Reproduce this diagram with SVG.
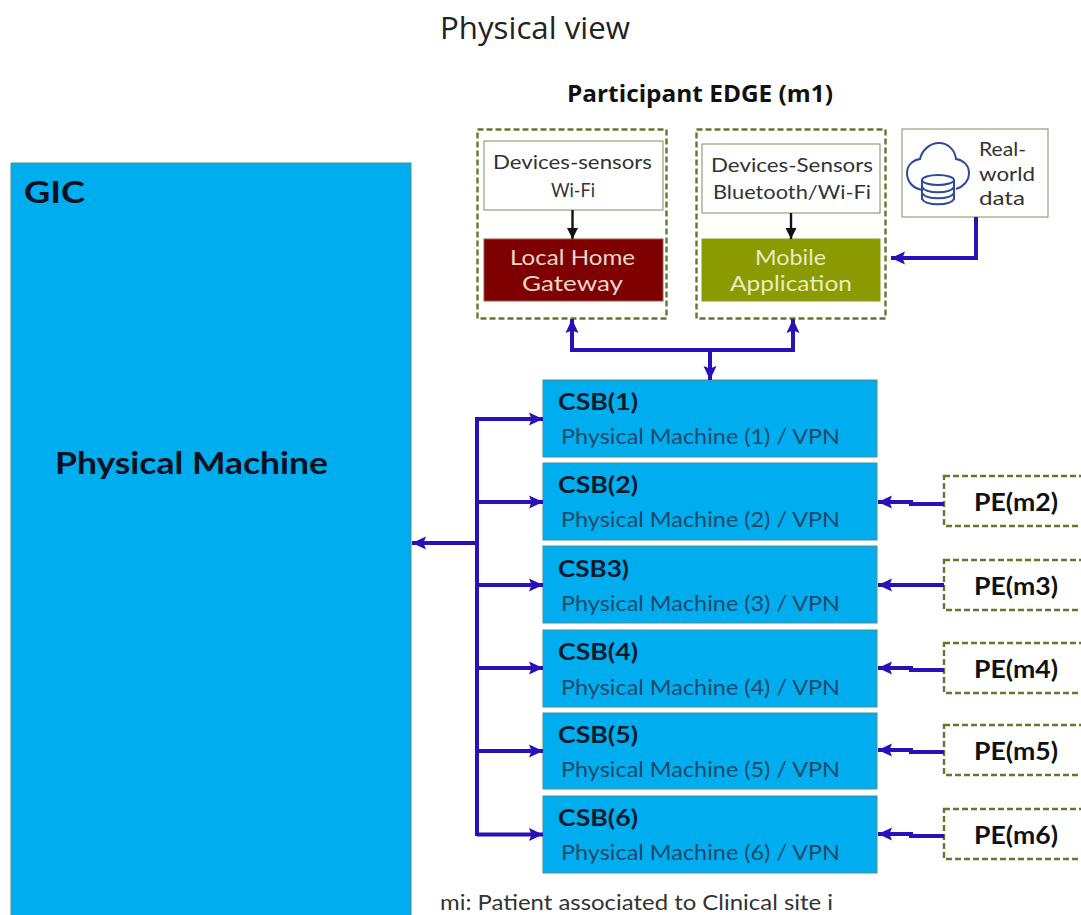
<svg xmlns="http://www.w3.org/2000/svg" width="1081" height="915" viewBox="0 0 1081 915">
<style>
text{font-family:"Lato","Noto Sans","Liberation Sans",sans-serif}
.blue{fill:#00adef;stroke:#4f8f8f;stroke-width:1}
.dash{fill:#fff;stroke:#5f7a2e;stroke-width:2.4;stroke-dasharray:6 3}
.wbox{fill:#fff;stroke:#7f8f5f;stroke-width:1}
.b{font-weight:700;fill:#0a1020}
.h{font-size:23px;font-weight:700;fill:#0a1a2a}
.p{font-size:21px;fill:#1f4a6a}
.pe{font-size:25px;font-weight:700;fill:#111}
.m{text-anchor:middle}
.dev{font-size:20px;fill:#333}
.lab{font-size:22px}
.c{fill:none;stroke:#2a10b8;stroke-width:4}
.k{fill:none;stroke:#111;stroke-width:2.4}
</style>
<defs>
<marker id="a" markerUnits="userSpaceOnUse" markerWidth="15" markerHeight="14" refX="14" refY="7" orient="auto"><path d="M0 0.500L14 7L0 13.500L2.500 7Z" fill="#2a10b8"/></marker>
<marker id="k" markerUnits="userSpaceOnUse" markerWidth="12" markerHeight="12" refX="11" refY="6" orient="auto"><path d="M0 0.500L11 6L0 11.500Z" fill="#111"/></marker>
</defs>
<rect width="1081" height="915" fill="#fff"/>
<text id="title" x="440" y="39" font-size="31" fill="#222" style="font-family:'Open Sans','Noto Sans',sans-serif" textLength="190" lengthAdjust="spacingAndGlyphs">Physical view</text>
<text id="edge-title" x="567" y="102" font-size="24" font-weight="700" fill="#111" style="font-family:'Open Sans','Noto Sans',sans-serif" textLength="266" lengthAdjust="spacingAndGlyphs">Participant EDGE (m1)</text>

<g id="gic"><rect class="blue" x="11" y="163" width="400" height="760"/>
<text class="b" x="24" y="203" font-size="30" textLength="61" lengthAdjust="spacingAndGlyphs">GIC</text>
<text class="b" x="55" y="474" font-size="31" textLength="273" lengthAdjust="spacingAndGlyphs">Physical Machine</text></g>

<g id="edge-wifi"><rect class="dash" x="477.500" y="129.500" width="189" height="189"/></g>
<g id="edge-ble"><rect class="dash" x="696.500" y="129.500" width="189" height="189"/></g>

<g id="devices-wifi"><rect class="wbox" x="484" y="141" width="179" height="69"/>
<text class="dev" x="493" y="169" textLength="159" lengthAdjust="spacingAndGlyphs">Devices-sensors</text><text class="dev" x="551" y="197" textLength="44" lengthAdjust="spacingAndGlyphs">Wi-Fi</text></g>
<g id="gateway"><rect x="484" y="239" width="179" height="62" fill="#7f0000" stroke="#9a5a40"/>
<text class="lab" x="510" y="265" fill="#e8d8c8" textLength="125" lengthAdjust="spacingAndGlyphs">Local Home</text><text class="lab" x="522" y="291" fill="#e8d8c8" textLength="101" lengthAdjust="spacingAndGlyphs">Gateway</text></g>
<g id="devices-ble"><rect class="wbox" x="702" y="144" width="178" height="69"/>
<text class="dev" x="711" y="172" textLength="162" lengthAdjust="spacingAndGlyphs">Devices-Sensors</text><text class="dev" x="713" y="199" textLength="158" lengthAdjust="spacingAndGlyphs">Bluetooth/Wi-Fi</text></g>
<g id="mobile"><rect x="702" y="239" width="178" height="62" fill="#8a9a00" stroke="#8a9a20"/>
<text class="lab" x="755" y="265" fill="#e8ecc0" textLength="71" lengthAdjust="spacingAndGlyphs">Mobile</text><text class="lab" x="730" y="291" fill="#e8ecc0" textLength="122" lengthAdjust="spacingAndGlyphs">Application</text></g>

<g id="rwd"><rect class="wbox" x="902" y="129" width="146" height="88"/>
<g fill="none" stroke="#2e4a9a" stroke-width="2">
<path d="M922 190C912 188 907 181 907 173C907 165 913 160 920 159C922 150 930 143 939 143C948 143 955 150 956 159C963 160 969 165 969 173C969 181 963 187 956 189"/>
<ellipse cx="938" cy="180" rx="16" ry="5"/>
<path d="M922 180V199C926 206 950 206 954 199V180M922 187C926 194 950 194 954 187M922 193C926 200 950 200 954 193"/>
</g>
<text x="979" y="156" font-size="20" fill="#333" textLength="47" lengthAdjust="spacingAndGlyphs">Real-</text><text x="979" y="181" font-size="20" fill="#333" textLength="56" lengthAdjust="spacingAndGlyphs">world</text><text x="979" y="205" font-size="20" fill="#333" textLength="46" lengthAdjust="spacingAndGlyphs">data</text></g>

<g id="csb1"><rect class="blue" x="543" y="380" width="334" height="77"/><text class="h" x="558" y="410" textLength="80" lengthAdjust="spacingAndGlyphs">CSB(1)</text><text class="p" x="561" y="444" textLength="279" lengthAdjust="spacingAndGlyphs">Physical Machine  (1) / VPN</text></g>
<g id="csb2"><rect class="blue" x="543" y="463" width="334" height="77"/><text class="h" x="558" y="493" textLength="80" lengthAdjust="spacingAndGlyphs">CSB(2)</text><text class="p" x="561" y="527" textLength="279" lengthAdjust="spacingAndGlyphs">Physical Machine  (2) / VPN</text></g>
<g id="csb3"><rect class="blue" x="543" y="546" width="334" height="77"/><text class="h" x="558" y="577" textLength="71" lengthAdjust="spacingAndGlyphs">CSB3)</text><text class="p" x="561" y="611" textLength="279" lengthAdjust="spacingAndGlyphs">Physical Machine  (3) / VPN</text></g>
<g id="csb4"><rect class="blue" x="543" y="630" width="334" height="77"/><text class="h" x="558" y="660" textLength="80" lengthAdjust="spacingAndGlyphs">CSB(4)</text><text class="p" x="561" y="695" textLength="279" lengthAdjust="spacingAndGlyphs">Physical Machine  (4) / VPN</text></g>
<g id="csb5"><rect class="blue" x="543" y="713" width="334" height="76"/><text class="h" x="558" y="743" textLength="80" lengthAdjust="spacingAndGlyphs">CSB(5)</text><text class="p" x="561" y="777" textLength="279" lengthAdjust="spacingAndGlyphs">Physical Machine  (5) / VPN</text></g>
<g id="csb6"><rect class="blue" x="543" y="796" width="334" height="77"/><text class="h" x="558" y="826" textLength="80" lengthAdjust="spacingAndGlyphs">CSB(6)</text><text class="p" x="561" y="860" textLength="279" lengthAdjust="spacingAndGlyphs">Physical Machine  (6) / VPN</text></g>

<g id="pe2"><rect class="dash" x="944" y="476" width="150" height="50"/><text class="pe" x="974" y="511" textLength="84" lengthAdjust="spacingAndGlyphs">PE(m2)</text></g>
<g id="pe3"><rect class="dash" x="944" y="560" width="150" height="50"/><text class="pe" x="974" y="595" textLength="84" lengthAdjust="spacingAndGlyphs">PE(m3)</text></g>
<g id="pe4"><rect class="dash" x="944" y="643" width="150" height="50"/><text class="pe" x="974" y="678" textLength="84" lengthAdjust="spacingAndGlyphs">PE(m4)</text></g>
<g id="pe5"><rect class="dash" x="944" y="725" width="150" height="50"/><text class="pe" x="974" y="760" textLength="84" lengthAdjust="spacingAndGlyphs">PE(m5)</text></g>
<g id="pe6"><rect class="dash" x="944" y="809" width="150" height="50"/><text class="pe" x="974" y="844" textLength="84" lengthAdjust="spacingAndGlyphs">PE(m6)</text></g>

<text id="note" x="440" y="910" font-size="21" fill="#333" textLength="393" lengthAdjust="spacingAndGlyphs">mi: Patient associated to Clinical site i</text>

<g id="connectors">
<path class="k" d="M572.500 210V239" marker-end="url(#k)"/>
<path class="k" d="M791 213V239" marker-end="url(#k)"/>
<path class="c" d="M976 217V258H891" marker-end="url(#a)"/>
<path class="c" d="M710 350H572V319" marker-end="url(#a)"/>
<path class="c" d="M710 350H793V319" marker-end="url(#a)"/>
<path class="c" d="M710 350V380" marker-end="url(#a)"/>
<path class="c" d="M477 543H412" marker-end="url(#a)"/>
<path class="c" d="M477 836V417"/>
<path class="c" d="M477 419H543" marker-end="url(#a)"/>
<path class="c" d="M477 502H543" marker-end="url(#a)"/>
<path class="c" d="M477 585H543" marker-end="url(#a)"/>
<path class="c" d="M477 668H543" marker-end="url(#a)"/>
<path class="c" d="M477 751H543" marker-end="url(#a)"/>
<path class="c" d="M477 834.500H543" marker-end="url(#a)"/>
<path class="c" d="M944 504H911V502H878" marker-end="url(#a)"/>
<path class="c" d="M944 585H878" marker-end="url(#a)"/>
<path class="c" d="M944 670H911V668H878" marker-end="url(#a)"/>
<path class="c" d="M944 752H911V750H878" marker-end="url(#a)"/>
<path class="c" d="M944 836H911V834H878" marker-end="url(#a)"/>
</g>
</svg>
